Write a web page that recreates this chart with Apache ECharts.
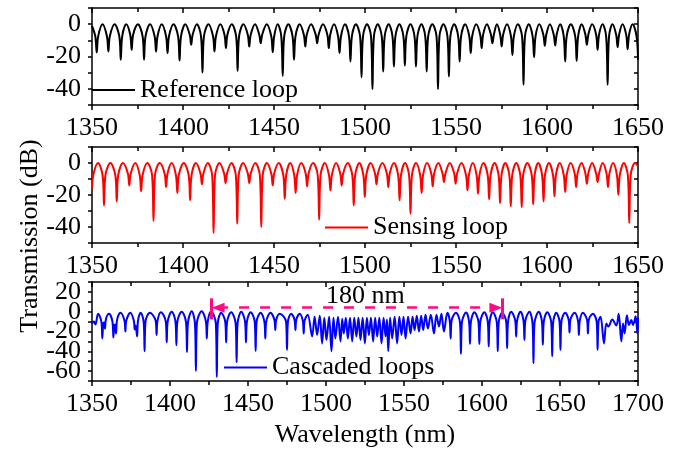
<!DOCTYPE html>
<html><head><meta charset="utf-8">
<script src="https://cdn.jsdelivr.net/npm/echarts@6/dist/echarts.min.js"></script>
<style>html,body{margin:0;padding:0;background:#fff}#chart{width:693px;height:455px}</style>
</head><body><div id="chart"></div>
<script>
// ---- data: [wavelength (nm), transmission (dB)] ----
const refLoop = [
[1350,-1],
[1351.8,-7.5],[1352.6,-17.5],[1353.4,-7.5],[1355.8,0],
[1358.2,-7.5],[1359.0,-16.9],[1359.8,-7.5],[1362.4,0],
[1365.0,-7.5],[1365.8,-22],[1366.6,-7.5],[1368.8,0],
[1371.0,-6.5],[1371.8,-15.9],[1372.6,-6.5],[1375.2,0],
[1377.8,-7.5],[1378.6,-22],[1379.4,-7.5],[1381.9,0],
[1384.4,-7.5],[1385.2,-16.9],[1386.0,-7.5],[1388.3,0],
[1390.7,-7.5],[1391.5,-17.9],[1392.3,-7.5],[1394.8,0],
[1397.3,-7.5],[1398.1,-22.5],[1398.9,-7.5],[1401.3,0],
[1403.7,-6.5],[1404.5,-12.8],[1405.3,-6.5],[1407.6,0],
[1409.9,-7.5],[1410.7,-29.9],[1411.5,-7.5],[1414.0,0],
[1416.5,-7.5],[1417.3,-16.9],[1418.1,-7.5],[1420.5,0],
[1422.8,-6.5],[1423.6,-14.8],[1424.4,-6.5],[1426.8,0],
[1429.2,-7.5],[1430.0,-28.9],[1430.8,-7.5],[1433.2,0],
[1435.6,-6.5],[1436.4,-13.8],[1437.2,-6.5],[1439.6,0],
[1441.9,-6.5],[1442.7,-11.8],[1443.5,-6.5],[1446.0,0],
[1448.5,-7.5],[1449.3,-17.3],[1450.1,-7.5],[1452.0,0],
[1454.0,-7.5],[1454.8,-32],[1455.6,-7.5],[1457.9,0],
[1460.2,-7.5],[1461.0,-22],[1461.8,-7.5],[1464.1,0],
[1466.4,-6.5],[1467.2,-13.8],[1468.0,-6.5],[1470.4,0],
[1472.9,-6.5],[1473.7,-11.8],[1474.5,-6.5],[1476.9,0],
[1479.3,-6.5],[1480.1,-14.8],[1480.9,-6.5],[1483.0,0],
[1485.2,-7.5],[1486.0,-17.9],[1486.8,-7.5],[1489.0,0],
[1491.2,-7.5],[1492.0,-23.1],[1492.8,-7.5],[1495.0,0],
[1497.3,-7.5],[1498.1,-32.8],[1498.9,-7.5],[1501.1,0],
[1503.3,-7.5],[1504.1,-40.2],[1504.9,-7.5],[1507.0,0],
[1509.2,-7.5],[1510.0,-29.3],[1510.8,-7.5],[1513.0,0],
[1515.1,-7.5],[1515.9,-26.2],[1516.7,-7.5],[1518.9,0],
[1521.1,-7.5],[1521.9,-25.6],[1522.7,-7.5],[1525.0,0],
[1527.2,-7.5],[1528.0,-26.2],[1528.8,-7.5],[1531.0,0],
[1533.1,-7.5],[1533.9,-29.3],[1534.7,-7.5],[1537.0,0],
[1539.3,-7.5],[1540.1,-40.2],[1540.9,-7.5],[1543.1,0],
[1545.3,-7.5],[1546.1,-32.4],[1546.9,-7.5],[1549.0,0],
[1551.2,-7.5],[1552.0,-23.1],[1552.8,-7.5],[1555.0,0],
[1557.3,-7.5],[1558.1,-17.9],[1558.9,-7.5],[1561.1,0],
[1563.3,-6.5],[1564.1,-14.8],[1564.9,-6.5],[1567.0,0],
[1569.2,-6.5],[1570.0,-11.8],[1570.8,-6.5],[1572.5,0],
[1574.3,-6.5],[1575.1,-13.8],[1575.9,-6.5],[1578.0,0],
[1580.2,-7.5],[1581.0,-19],[1581.8,-7.5],[1584.0,0],
[1586.3,-7.5],[1587.1,-37.5],[1587.9,-7.5],[1590.0,0],
[1592.1,-7.5],[1592.9,-20.4],[1593.7,-7.5],[1595.8,0],
[1598.0,-6.5],[1598.8,-13.4],[1599.6,-6.5],[1601.6,0],
[1603.7,-6.5],[1604.5,-13.2],[1605.3,-6.5],[1607.2,0],
[1609.2,-7.5],[1610.0,-23.1],[1610.8,-7.5],[1613.1,0],
[1615.5,-7.5],[1616.3,-22.7],[1617.1,-7.5],[1619.1,0],
[1621.1,-6.5],[1621.9,-12.8],[1622.7,-6.5],[1624.8,0],
[1627.0,-6.5],[1627.8,-15.9],[1628.6,-6.5],[1630.5,0],
[1632.5,-7.5],[1633.3,-37.5],[1634.1,-7.5],[1636.0,0],
[1638.0,-6.5],[1638.8,-14.2],[1639.6,-6.5],[1641.5,0],
[1643.5,-6.5],[1644.3,-15.5],[1645.1,-6.5],[1647.0,0],
[1649.2,-7.5],[1650,-22]
];

const sensLoop = [
[1350,-16],[1350.8,-7],[1353.3,0],
[1355.8,-7.5],[1356.6,-26.5],[1357.4,-7.5],[1360.1,0],
[1362.8,-7.5],[1363.6,-24],[1364.4,-7.5],[1367.0,0],
[1369.7,-6.5],[1370.5,-14],[1371.3,-6.5],[1373.8,0],
[1376.2,-7.5],[1377.0,-17.7],[1377.8,-7.5],[1380.4,0],
[1383.0,-7.5],[1383.8,-36.3],[1384.6,-7.5],[1387.2,0],
[1389.9,-6.5],[1390.7,-15],[1391.5,-6.5],[1393.8,0],
[1396.1,-7.5],[1396.9,-18.7],[1397.7,-7.5],[1400.4,0],
[1403.1,-7.5],[1403.9,-23.3],[1404.7,-7.5],[1407.1,0],
[1409.6,-6.5],[1410.4,-13.3],[1411.2,-6.5],[1413.6,0],
[1416.0,-7.5],[1416.8,-43.7],[1417.6,-7.5],[1420.1,0],
[1422.6,-6.5],[1423.4,-12.5],[1424.2,-6.5],[1426.6,0],
[1429.0,-7.5],[1429.8,-37.9],[1430.6,-7.5],[1433.1,0],
[1435.6,-6.5],[1436.4,-12.5],[1437.2,-6.5],[1439.7,0],
[1442.2,-7.5],[1443.0,-40],[1443.8,-7.5],[1446.1,0],
[1448.5,-6.5],[1449.3,-14],[1450.1,-6.5],[1452.6,0],
[1455.1,-7.5],[1455.9,-22.3],[1456.7,-7.5],[1458.9,0],
[1461.1,-7.5],[1461.9,-18.7],[1462.7,-7.5],[1465.0,0],
[1467.4,-6.5],[1468.2,-14.6],[1469.0,-6.5],[1471.5,0],
[1474.0,-7.5],[1474.8,-35.4],[1475.6,-7.5],[1477.9,0],
[1480.2,-7.5],[1481.0,-17.1],[1481.8,-7.5],[1484.1,0],
[1486.4,-6.5],[1487.2,-14],[1488.0,-6.5],[1490.5,0],
[1493.0,-7.5],[1493.8,-26.5],[1494.6,-7.5],[1496.9,0],
[1499.1,-7.5],[1499.9,-21.3],[1500.7,-7.5],[1503.1,0],
[1505.5,-6.5],[1506.3,-13.3],[1507.1,-6.5],[1509.5,0],
[1512.0,-6.5],[1512.8,-15],[1513.6,-6.5],[1515.9,0],
[1518.2,-7.5],[1519.0,-23.3],[1519.8,-7.5],[1522.0,0],
[1524.2,-7.5],[1525.0,-31.7],[1525.8,-7.5],[1528.0,0],
[1530.3,-7.5],[1531.1,-18.7],[1531.9,-7.5],[1534.1,0],
[1536.4,-6.5],[1537.2,-14.6],[1538.0,-6.5],[1540.3,0],
[1542.6,-6.5],[1543.4,-11.9],[1544.2,-6.5],[1546.6,0],
[1549.0,-6.5],[1549.8,-12.9],[1550.6,-6.5],[1553.0,0],
[1555.5,-7.5],[1556.3,-17.1],[1557.1,-7.5],[1559.2,0],
[1561.3,-7.5],[1562.1,-19.2],[1562.9,-7.5],[1565.1,0],
[1567.4,-7.5],[1568.2,-22.7],[1569.0,-7.5],[1571.2,0],
[1573.4,-7.5],[1574.2,-25],[1575.0,-7.5],[1577.1,0],
[1579.3,-7.5],[1580.1,-27.1],[1580.9,-7.5],[1583.1,0],
[1585.3,-7.5],[1586.1,-27.5],[1586.9,-7.5],[1589.2,0],
[1591.6,-7.5],[1592.4,-25.8],[1593.2,-7.5],[1595.2,0],
[1597.3,-7.5],[1598.1,-24],[1598.9,-7.5],[1601.1,0],
[1603.3,-7.5],[1604.1,-20.8],[1604.9,-7.5],[1607.0,0],
[1609.2,-7.5],[1610.0,-18.1],[1610.8,-7.5],[1613.0,0],
[1615.2,-6.5],[1616.0,-15],[1616.8,-6.5],[1619.0,0],
[1621.1,-6.5],[1621.9,-12.9],[1622.7,-6.5],[1624.8,0],
[1627.0,-6.5],[1627.8,-11.9],[1628.6,-6.5],[1630.6,0],
[1632.7,-6.5],[1633.5,-15],[1634.3,-6.5],[1636.3,0],
[1638.4,-7.5],[1639.2,-19.8],[1640.0,-7.5],[1642.2,0],
[1644.4,-7.5],[1645.2,-37.5],[1646.0,-7.5],[1648.4,0],
[1650,-2]
];

const cascLoops = [
[1350,-12],[1351.3,-10],[1352.2,-13],[1353.9,-2],
[1356.0,-10],[1356.6,-27],[1357.2,-12],[1357.7,-11],[1358.3,-17],[1359.0,-7],[1360.9,-2],
[1363.1,-10],[1363.7,-26],[1364.3,-14],[1364.8,-13],[1365.4,-22],[1366.1,-8],[1368.2,-1],
[1370.8,-9],[1371.4,-20],[1372.0,-9],[1374.6,-1],
[1376.8,-9],[1377.4,-18],[1378.0,-14],[1378.9,-25],[1379.5,-9],[1381.2,-1],
[1383.1,-10],[1383.7,-40],[1384.3,-10],[1387.1,-1],
[1390.8,-9],[1391.4,-23.5],[1392.0,-9],[1394.2,-0.5],
[1397.3,-10],[1397.9,-31],[1398.5,-10],[1401.1,0],
[1403.5,-10],[1404.1,-33.8],[1404.7,-10],[1407.5,0],
[1410.3,-11],[1410.9,-40.8],[1411.5,-11],[1413.9,0.5],
[1416.0,-12],[1416.6,-60],[1417.2,-12],[1420.3,0.5],
[1423.0,-10],[1423.6,-27],[1424.2,-10],[1426.3,0.5],
[1429.4,-12],[1430.0,-66],[1430.6,-12],[1432.8,-1],
[1435.4,-10],[1436.0,-31],[1436.6,-10],[1439.2,-0.5],
[1442.1,-12],[1442.7,-51],[1443.3,-12],[1445.7,0],
[1448.1,-10],[1448.7,-31],[1449.3,-10],[1451.7,-0.5],
[1454.3,-10],[1454.9,-39.5],[1455.5,-10],[1458.1,-1],
[1460.5,-10],[1461.1,-27],[1461.7,-10],[1464.4,-1],
[1466.9,-8],[1467.5,-18.5],[1468.1,-8],[1470.3,-2],
[1474.4,-10],[1475.0,-38.5],[1475.6,-10],[1477.6,-2],
[1479.8,-8],[1480.4,-18.5],[1481.0,-8],[1483.1,-2],
[1485.1,-9],[1485.7,-22],[1486.3,-9],[1488.3,-3],
[1491.1,-25],[1492.7,-5],[1494.3,-23.5],[1496.0,-4],[1497.5,-32],[1498.9,-6],
[1500.3,-28.5],[1502.0,-5],[1503.5,-40],[1504.8,-6],[1506.0,-27],[1507.7,-5],
[1509.3,-30],[1510.4,-7],[1511.4,-22],[1512.7,-6],[1514.0,-27],[1515.4,-6],
[1516.8,-30],[1518.1,-6],[1519.5,-25],[1520.8,-6],[1522.1,-28.5],[1523.5,-6],
[1524.9,-32],[1526.2,-6],[1527.5,-23.5],[1528.8,-6],[1530.2,-30],[1531.5,-6],
[1532.8,-25],[1534.2,-6],[1535.6,-32],[1536.9,-6],[1538.2,-25],[1539.1,-8],
[1539.9,-40],[1541.1,-6],[1542.4,-27],[1544.0,-5],[1545.6,-32],[1547.0,-5],
[1548.4,-23.5],[1549.7,-5],[1551.0,-27],[1552.6,-5],[1554.2,-22],[1555.5,-5],
[1556.8,-18.5],[1558.2,-4],[1559.6,-20],[1561.0,-4],[1562.3,-18.5],[1563.8,-3],
[1565.3,-17],[1567.2,-3],[1569.2,-22],[1570.8,-3],[1572.4,-15],[1574.0,-2],
[1575.6,-20],[1577.8,-1],
[1579.3,-9],[1579.9,-27],[1580.5,-9],[1583.3,-1],
[1585.9,-11],[1586.5,-42.5],[1587.1,-11],[1589.8,-0.8],
[1591.7,-10],[1592.3,-32.5],[1592.9,-10],[1595.1,-0.5],
[1597.7,-10],[1598.3,-32.5],[1598.9,-10],[1601.5,-0.5],
[1603.7,-10],[1604.3,-35],[1604.9,-10],[1606.9,-0.5],
[1609.5,-11],[1610.1,-40],[1610.7,-11],[1612.9,-1],
[1615.5,-10],[1616.1,-37],[1616.7,-10],[1618.7,0],
[1621.3,-9],[1621.9,-25],[1622.5,-9],[1624.7,0],
[1626.6,-9],[1627.2,-28.5],[1627.8,-9],[1630.4,0],
[1632.4,-12],[1633.0,-52],[1633.6,-12],[1636.4,0],
[1638.4,-10],[1639.0,-33.5],[1639.6,-10],[1641.8,-0.5],
[1644.4,-11],[1645.0,-45],[1645.6,-11],[1647.6,-1],
[1649.7,-10],[1650.3,-38.5],[1650.9,-10],[1653.3,-1],
[1655.5,-8],[1656.1,-21],[1656.7,-8],[1659.3,-1],
[1661.5,-9],[1662.1,-23.5],[1662.7,-9],[1664.7,-1],
[1667.3,-8],[1667.9,-22],[1668.5,-8],[1671.1,-2],
[1673.5,-10],[1674.1,-38.5],[1674.7,-10],[1676.0,-5],
[1678.2,-32],[1679.7,-12],[1681.0,-15],[1683.5,-8],[1686.1,-14],[1687.6,-2],
[1689.3,-30],[1690.4,-12],[1691.4,-22],[1692.9,-3.5],[1694.2,-13.5],[1695.7,-8.5],
[1696.8,-13.5],[1698.5,-4.5],[1699.6,-22],[1700,-6]
];

const seriesNames = ['Reference loop', 'Sensing loop', 'Cascaded loops'];
const seriesData = [refLoop, sensLoop, cascLoops];
const xRanges = [[1350, 1650], [1350, 1650], [1350, 1700]];
const yRanges = [[-50, 10], [-50, 10], [-70, 30]];
const xTickStep = 50;
const yTickStep = 10;
const yLabelStep = 20;
const xTitle = 'Wavelength (nm)';
const yTitle = 'Transmission (dB)';
const spanEnds = [1426.6, 1613.1];   // 180 nm marker ends (nm)
const spanLevel = 4;                 // dB level of the arrow
const spanBar = [13.5, -7.7];        // dB extent of end bars
const spanLabel = '180 nm';
const spanLabelPos = [1525.3, 16];

// ---- styling / layout ----
const FONT = 'Liberation Serif';
const FS = 26;
const colors = ['#000000', '#ff0000', '#0000ff'];
const pink = '#ff0a80';
const grids = [
  {left: 92, top: 8, width: 546, height: 97},
  {left: 92, top: 147, width: 546, height: 96},
  {left: 92, top: 282, width: 546, height: 99}
];
const legendPos = [{left: 92, top: 77}, {left: 325, top: 214.5}, {left: 224, top: 354.5}];

const lineW = 1.5;
const axLine = {onZero: false, lineStyle: {color: '#000', width: lineW}};
const tickStyle = {color: '#000', width: lineW};

const xAxis = [], yAxis = [], series = [], legend = [];
for (let i = 0; i < 3; i++) {
  const xc = {
    type: 'value', gridIndex: i, min: xRanges[i][0], max: xRanges[i][1], interval: xTickStep,
    axisLine: axLine, splitLine: {show: false},
    minorTick: {show: true, splitNumber: 2, length: 4, lineStyle: tickStyle}
  };
  const bottom = Object.assign({}, xc, {
    position: 'bottom',
    axisTick: {length: 5, lineStyle: tickStyle},
    axisLabel: {color: '#000', fontFamily: FONT, fontSize: FS, margin: 10, formatter: v => String(v)}
  });
  if (i === 2) {
    Object.assign(bottom, {name: xTitle, nameLocation: 'middle', nameGap: 41,
      nameTextStyle: {color: '#000', fontFamily: FONT, fontSize: FS}});
  }
  const top = Object.assign({}, xc, {
    position: 'top', axisTick: {inside: true, length: 5, lineStyle: tickStyle}, axisLabel: {show: false}
  });
  xAxis.push(bottom, top);

  const yc = {
    type: 'value', gridIndex: i, min: yRanges[i][0], max: yRanges[i][1], interval: yTickStep,
    axisLine: axLine, splitLine: {show: false}
  };
  yAxis.push(
    Object.assign({}, yc, {position: 'left', axisTick: {length: 4, lineStyle: tickStyle},
      axisLabel: {color: '#000', fontFamily: FONT, fontSize: FS, margin: 11,
        formatter: v => (v % yLabelStep === 0 ? String(v) : '')}}),
    Object.assign({}, yc, {position: 'right', axisTick: {inside: true, length: 4, lineStyle: tickStyle},
      axisLabel: {show: false}})
  );

  const s = {
    type: 'line', name: seriesNames[i], data: seriesData[i],
    xAxisIndex: 2 * i, yAxisIndex: 2 * i,
    symbol: 'none', showSymbol: false, smooth: 0.35,
    color: colors[i], lineStyle: {color: colors[i], width: 2},
    animation: false, silent: true
  };
  if (i === 2) {
    s.markLine = {
      silent: true, animation: false, label: {show: false},
      lineStyle: {color: pink, width: 2.5, type: [10, 11]},
      data: [
        [{coord: [spanEnds[0] + 4.2, spanLevel], symbol: 'triangle', symbolSize: [10, 13]},
         {coord: [spanEnds[1] - 4.2, spanLevel], symbol: 'triangle', symbolSize: [10, 13]}],
        [{coord: [spanEnds[0], spanBar[0]], symbol: 'none', lineStyle: {color: pink, type: 'solid', width: 3}},
         {coord: [spanEnds[0], spanBar[1]], symbol: 'none'}],
        [{coord: [spanEnds[1], spanBar[0]], symbol: 'none', lineStyle: {color: pink, type: 'solid', width: 3}},
         {coord: [spanEnds[1], spanBar[1]], symbol: 'none'}]
      ]
    };
    s.markPoint = {
      silent: true, animation: false,
      data: [{coord: spanLabelPos, symbol: 'circle', symbolSize: 1, itemStyle: {color: 'rgba(0,0,0,0)'},
        label: {show: true, position: 'inside', formatter: spanLabel, color: '#000', fontFamily: FONT, fontSize: FS}}]
    };
  }
  series.push(s);

  legend.push(Object.assign({
    data: [seriesNames[i]], orient: 'horizontal', padding: 0, itemGap: 0,
    itemWidth: 43, itemHeight: 2, icon: 'rect', selectedMode: false,
    textStyle: {color: '#000', fontFamily: FONT, fontSize: FS}
  }, legendPos[i]));
}

const chart = echarts.init(document.getElementById('chart'), null, {renderer: 'canvas'});
chart.setOption({
  backgroundColor: '#fff',
  animation: false,
  textStyle: {fontFamily: FONT},
  grid: grids.map(g => Object.assign({outerBoundsMode: 'none', containLabel: false}, g)),
  xAxis, yAxis, series, legend,
  graphic: [{
    type: 'text', x: 30, y: 236, rotation: Math.PI / 2, silent: true,
    style: {text: yTitle, fill: '#000', fontFamily: FONT, fontSize: FS, align: 'center', verticalAlign: 'middle'}
  }]
});
</script>
</body></html>
